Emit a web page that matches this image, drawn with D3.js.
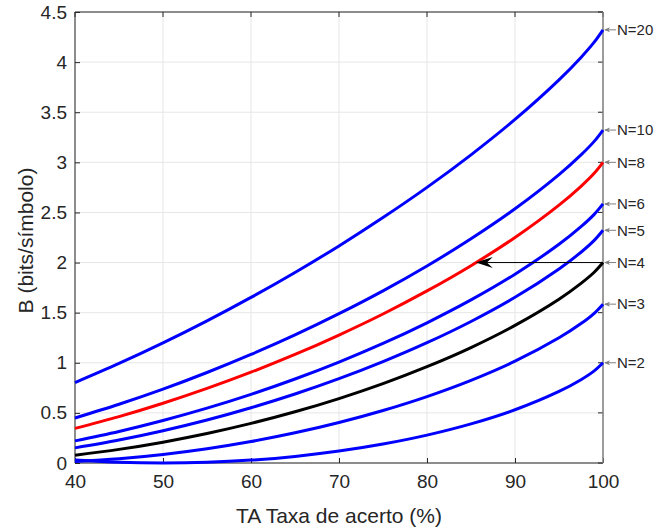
<!DOCTYPE html>
<html>
<head>
<meta charset="utf-8">
<script src="https://cdn.jsdelivr.net/npm/d3@7"></script>
<style>
  body { margin: 0; background: #fff; }
  text { font-family: "Liberation Sans", Arial, sans-serif; fill: #262626; }
</style>
</head>
<body>
<div id="chart"></div>
<script>
const width = 656;
const height = 532;
const margin = ({top: 12, right: 53, bottom: 69, left: 75});

// taxa de acerto (%)
const taxa = [40, 45, 50, 55, 60, 65, 70, 75, 80, 85, 90, 95, 97.5, 99, 100];

// bits/simbolo
const bN2  = [0.029, 0.007, 0.000, 0.007, 0.029, 0.066, 0.119, 0.189, 0.278, 0.390, 0.531, 0.714, 0.831, 0.919, 1.000];
const bN3  = [0.014, 0.042, 0.085, 0.142, 0.214, 0.301, 0.404, 0.524, 0.663, 0.825, 1.016, 1.249, 1.391, 1.494, 1.585];
const bN4  = [0.078, 0.136, 0.208, 0.294, 0.395, 0.511, 0.643, 0.792, 0.961, 1.152, 1.373, 1.634, 1.792, 1.903, 2.000];
const bN5  = [0.151, 0.229, 0.322, 0.429, 0.551, 0.688, 0.841, 1.011, 1.200, 1.412, 1.653, 1.936, 2.103, 2.221, 2.322];
const bN6  = [0.221, 0.315, 0.424, 0.547, 0.685, 0.838, 1.007, 1.193, 1.399, 1.627, 1.884, 2.182, 2.358, 2.481, 2.585];
const bN8  = [0.345, 0.463, 0.596, 0.744, 0.906, 1.083, 1.277, 1.487, 1.717, 1.969, 2.250, 2.573, 2.761, 2.891, 3.000];
const bN10 = [0.449, 0.586, 0.737, 0.903, 1.083, 1.278, 1.490, 1.718, 1.966, 2.237, 2.536, 2.877, 3.074, 3.209, 3.322];
const bN20 = [0.802, 0.993, 1.198, 1.418, 1.652, 1.901, 2.166, 2.449, 2.750, 3.075, 3.428, 3.823, 4.047, 4.199, 4.322];

const seriesNames = ["N=2", "N=3", "N=4", "N=5", "N=6", "N=8", "N=10", "N=20"];
const seriesValues = [bN2, bN3, bN4, bN5, bN6, bN8, bN10, bN20];
const seriesColors = ["#0000ff", "#0000ff", "#000000", "#0000ff", "#0000ff", "#ff0000", "#0000ff", "#0000ff"];

const xTicks = [40, 50, 60, 70, 80, 90, 100];
const yTicks = [0, 0.5, 1, 1.5, 2, 2.5, 3, 3.5, 4, 4.5];

// black arrow: from N=4 end back to the N=8 curve at B=2
const arrowFrom = [100, 2];
const arrowTo = [85.55, 2];

const svg = d3.select("#chart").append("svg")
  .attr("width", width)
  .attr("height", height);

const x = d3.scaleLinear()
  .domain([40, 100])
  .range([margin.left, width - margin.right]);

const y = d3.scaleLinear()
  .domain([0, 4.5])
  .range([height - margin.bottom, margin.top]);

const x0 = x.range()[0], x1 = x.range()[1];
const y0 = y.range()[0], y1 = y.range()[1];

// grid
svg.append("g")
  .selectAll("line")
  .data(xTicks)
  .join("line")
    .attr("x1", d => x(d)).attr("x2", d => x(d))
    .attr("y1", y0).attr("y2", y1)
    .attr("stroke", "#e6e6e6");

svg.append("g")
  .selectAll("line")
  .data(yTicks)
  .join("line")
    .attr("x1", x0).attr("x2", x1)
    .attr("y1", d => y(d)).attr("y2", d => y(d))
    .attr("stroke", "#e6e6e6");

// axes (ticks pointing in)
const xAxis = g => g
  .attr("transform", `translate(0,${y0})`)
  .call(d3.axisBottom(x).tickValues(xTicks).tickSize(-5).tickPadding(12).tickSizeOuter(0))
  .call(g => g.select(".domain").remove());

const yAxis = g => g
  .attr("transform", `translate(${x0},0)`)
  .call(d3.axisLeft(y).tickValues(yTicks).tickFormat(d => String(d)).tickSize(-5).tickPadding(8).tickSizeOuter(0))
  .call(g => g.select(".domain").remove());

svg.append("g").call(xAxis)
  .call(g => g.selectAll(".tick text").attr("font-size", 19).attr("fill", "#262626"))
  .call(g => g.selectAll(".tick line").attr("stroke", "#262626"));

svg.append("g").call(yAxis)
  .call(g => g.selectAll(".tick text").attr("font-size", 19).attr("fill", "#262626"))
  .call(g => g.selectAll(".tick line").attr("stroke", "#262626"));

// mirrored ticks top / right
svg.append("g")
  .selectAll("line")
  .data(xTicks)
  .join("line")
    .attr("x1", d => x(d)).attr("x2", d => x(d))
    .attr("y1", y1).attr("y2", y1 + 5)
    .attr("stroke", "#262626");

svg.append("g")
  .selectAll("line")
  .data(yTicks)
  .join("line")
    .attr("x1", x1 - 5).attr("x2", x1)
    .attr("y1", d => y(d)).attr("y2", d => y(d))
    .attr("stroke", "#262626");

// box
svg.append("path")
  .attr("d", `M${x1},${y0}H${x0}V${y1}H${x1}`)
  .attr("fill", "none")
  .attr("stroke", "#262626");
svg.append("line")
  .attr("x1", x1).attr("x2", x1)
  .attr("y1", y1).attr("y2", y0)
  .attr("stroke", "#7f7f7f")
  .attr("stroke-width", 1.5);

// curves
const line = d3.line()
  .x((d, i) => x(taxa[i]))
  .y(d => y(d))
  .curve(d3.curveCatmullRom.alpha(0.5));

svg.append("g")
  .selectAll("path")
  .data(seriesValues)
  .join("path")
    .attr("d", d => line(d))
    .attr("fill", "none")
    .attr("stroke", (d, i) => seriesColors[i])
    .attr("stroke-width", 3)
    .attr("stroke-linejoin", "round");

// black arrow
svg.append("line")
  .attr("x1", x(arrowFrom[0])).attr("y1", y(arrowFrom[1]))
  .attr("x2", x(arrowTo[0]) + 10).attr("y2", y(arrowTo[1]))
  .attr("stroke", "#000")
  .attr("stroke-width", 1);

const ax = x(arrowTo[0]), ay = y(arrowTo[1]);
svg.append("path")
  .attr("d", `M${ax},${ay}L${ax + 17},${ay - 5.5}L${ax + 11},${ay}L${ax + 17},${ay + 5.5}Z`)
  .attr("fill", "#000");

// N labels with small grey arrows
const labels = svg.append("g")
  .selectAll("g")
  .data(seriesValues)
  .join("g")
    .attr("transform", d => `translate(${x(100)},${y(d[d.length - 1])})`);

labels.append("line")
  .attr("x1", 2).attr("x2", 13)
  .attr("y1", 0).attr("y2", 0)
  .attr("stroke", "#808080");

labels.append("path")
  .attr("d", "M1,0L7,-2.5L5.5,0L7,2.5Z")
  .attr("fill", "#808080");

labels.append("text")
  .attr("x", 14)
  .attr("dy", "0.35em")
  .attr("font-size", 15)
  .attr("fill", "#000")
  .text((d, i) => seriesNames[i]);

// axis titles
svg.append("text")
  .attr("x", (x0 + x1) / 2)
  .attr("y", 523)
  .attr("text-anchor", "middle")
  .attr("font-size", 21)
  .text("TA Taxa de acerto (%)");

svg.append("text")
  .attr("transform", `translate(33,${(y0 + y1) / 2 + 3}) rotate(-90)`)
  .attr("text-anchor", "middle")
  .attr("font-size", 21)
  .text("B (bits/símbolo)");
</script>
</body>
</html>
